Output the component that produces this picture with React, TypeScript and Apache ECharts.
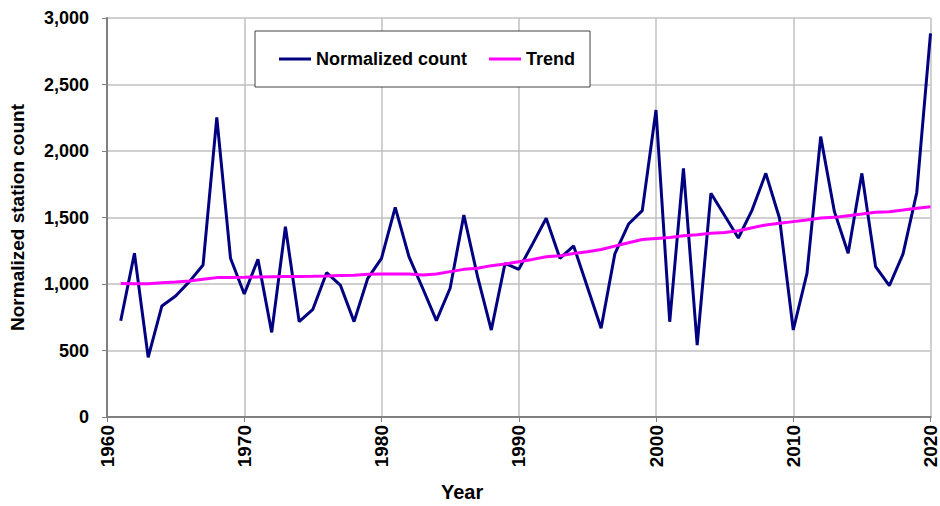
import React, { useEffect, useRef } from "react";
import * as echarts from "echarts";

const years: number[] = [];
for (let y = 1961; y <= 2020; y++) years.push(y);

const normalizedCount = [
  724, 1231, 449, 835, 910, 1018, 1143, 2253, 1193, 925,
  1185, 636, 1431, 717, 810, 1085, 992, 717, 1043, 1193,
  1576, 1206, 968, 724, 968, 1519, 1055, 654, 1155, 1110,
  1300, 1494, 1193, 1286, 977, 667, 1226, 1451, 1552, 2308,
  716, 1870, 541, 1682, 1515, 1346, 1556, 1832, 1494, 654,
  1080, 2108, 1544, 1231, 1832, 1130, 987, 1226, 1688, 2884,
];

const trend = [
  1003, 1002, 1002, 1010, 1015, 1022, 1035, 1048, 1049, 1050,
  1052, 1054, 1056, 1057, 1058, 1060, 1063, 1066, 1073, 1075,
  1075, 1075, 1068, 1075, 1093, 1110, 1118, 1138, 1150, 1168,
  1185, 1205, 1213, 1230, 1243, 1260, 1285, 1310, 1335, 1343,
  1350, 1363, 1371, 1381, 1388, 1401, 1423, 1444, 1456, 1469,
  1481, 1496, 1501, 1514, 1526, 1539, 1544, 1556, 1569, 1581,
];

const FONT = "'Liberation Sans', Arial, sans-serif";

export default function App() {
  const ref = useRef<HTMLDivElement>(null);
  useEffect(() => {
    if (!ref.current) return;
    const chart = echarts.init(ref.current, null, { renderer: "svg" });
    chart.setOption({
      animation: false,
      backgroundColor: "#ffffff",
      textStyle: { fontFamily: FONT },
      grid: { left: 106, right: 6, top: 18, bottom: 89, containLabel: false },
      legend: {
        left: 255,
        top: 31,
        orient: "horizontal",
        icon: "rect",
        itemWidth: 32,
        itemHeight: 3,
        itemGap: 22,
        padding: [19, 15, 19, 24],
        borderColor: "#404040",
        borderWidth: 1,
        backgroundColor: "#ffffff",
        textStyle: { fontFamily: FONT, fontWeight: "bold", fontSize: 18, color: "#000" },
        data: ["Normalized count", "Trend"],
      },
      graphic: [
        {
          type: "text",
          left: 441,
          top: 482,
          style: { text: "Year", font: "bold 20px 'Liberation Sans', Arial, sans-serif", fill: "#000" },
        },
      ],
      xAxis: [
        {
          type: "value",
          min: 1960,
          max: 2020,
          interval: 10,
          axisLine: { show: true, onZero: false, lineStyle: { color: "#808080", width: 2 } },
          axisTick: { show: true, length: 5, lineStyle: { color: "#808080" } },
          axisLabel: {
            rotate: 90,
            margin: 8,
            fontFamily: FONT,
            fontWeight: "bold",
            fontSize: 19,
            color: "#000",
            formatter: (v: number) => String(v),
          },
          splitLine: { show: true, lineStyle: { color: "#c0c0c0", width: 1.5 } },
        },
        {
          type: "value",
          position: "top",
          min: 1960,
          max: 2020,
          interval: 10,
          axisLine: { show: true, lineStyle: { color: "#808080", width: 2 } },
          axisTick: { show: false },
          axisLabel: { show: false },
          splitLine: { show: false },
        },
      ],
      yAxis: {
        type: "value",
        min: 0,
        max: 3000,
        interval: 500,
        name: "Normalized station count",
        nameLocation: "middle",
        nameGap: 80,
        nameTextStyle: { fontFamily: FONT, fontWeight: "bold", fontSize: 19, color: "#000" },
        axisLine: { show: true, lineStyle: { color: "#808080", width: 2 } },
        axisTick: { show: true, length: 5, lineStyle: { color: "#808080" } },
        axisLabel: {
          margin: 18,
          fontFamily: FONT,
          fontWeight: "bold",
          fontSize: 18,
          color: "#000",
          formatter: (v: number) => v.toLocaleString("en-US"),
        },
        splitLine: { show: true, lineStyle: { color: "#c0c0c0", width: 1.5 } },
      },
      series: [
        {
          name: "Normalized count",
          type: "line",
          xAxisIndex: 0,
          data: years.map((y, i) => [y, normalizedCount[i]]),
          showSymbol: false,
          symbol: "none",
          lineStyle: { color: "#000080", width: 3 },
          itemStyle: { color: "#000080" },
        },
        {
          name: "Trend",
          type: "line",
          xAxisIndex: 0,
          data: years.map((y, i) => [y, trend[i]]),
          showSymbol: false,
          symbol: "none",
          lineStyle: { color: "#ff00ff", width: 3 },
          itemStyle: { color: "#ff00ff" },
        },
      ],
    });
    return () => chart.dispose();
  }, []);
  return <div ref={ref} style={{ width: 940, height: 506, position: "fixed", left: 0, top: 0 }} />;
}
